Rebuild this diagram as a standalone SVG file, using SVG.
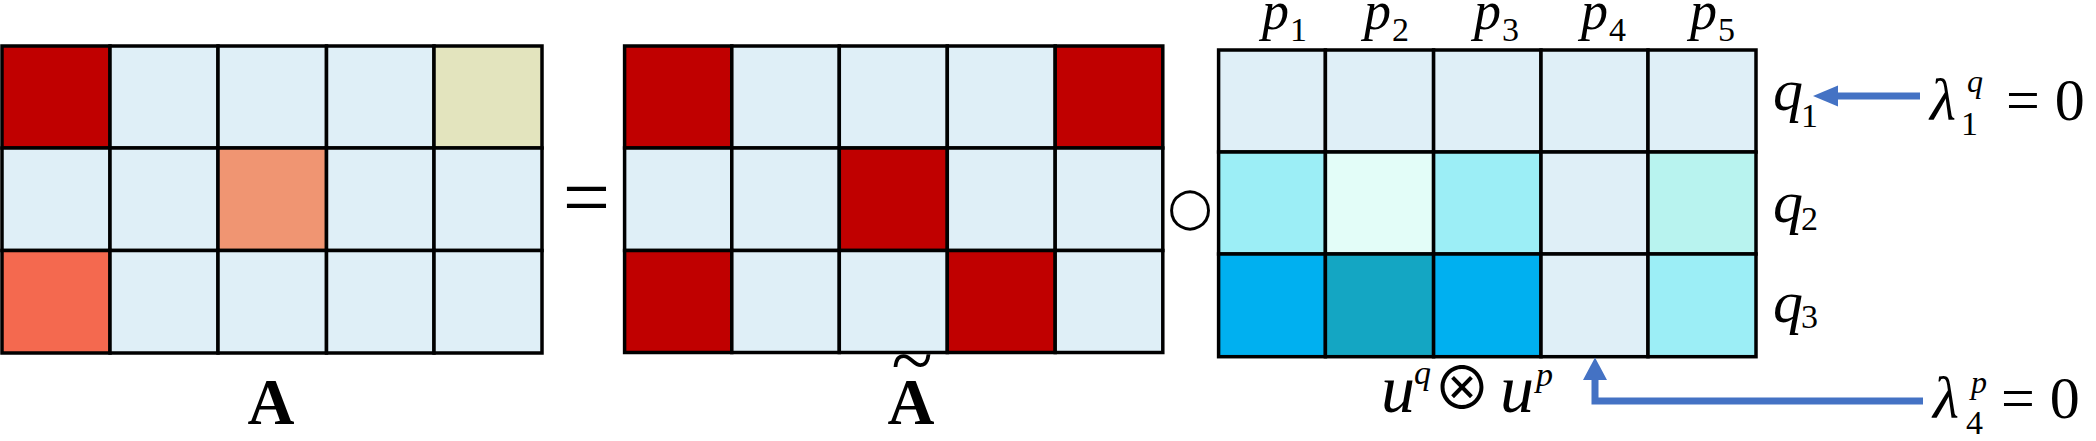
<svg xmlns="http://www.w3.org/2000/svg" width="2096" height="441" viewBox="0 0 2096 441">
<style>
.c{stroke:#000;stroke-width:3.5}
.lb{fill:#DFEFF7}.dr{fill:#C00000}.kh{fill:#E3E4BE}.sa{fill:#F09572}.co{fill:#F4694F}
.cy{fill:#9CEEF6}.mi{fill:#E3FDF8}.tq{fill:#B8F3EF}.bl{fill:#00B0F0}.te{fill:#14A6C3}
.ar{stroke:#4472C4;stroke-width:7;fill:none}
.ah{fill:#4472C4}
</style>
<g id="matrixA">
<rect class="c dr" x="2" y="46" width="108" height="102"/>
<rect class="c lb" x="110" y="46" width="108" height="102"/>
<rect class="c lb" x="218" y="46" width="108.5" height="102"/>
<rect class="c lb" x="326.5" y="46" width="107.5" height="102"/>
<rect class="c kh" x="434" y="46" width="108" height="102"/>
<rect class="c lb" x="2" y="148" width="108" height="102.5"/>
<rect class="c lb" x="110" y="148" width="108" height="102.5"/>
<rect class="c sa" x="218" y="148" width="108.5" height="102.5"/>
<rect class="c lb" x="326.5" y="148" width="107.5" height="102.5"/>
<rect class="c lb" x="434" y="148" width="108" height="102.5"/>
<rect class="c co" x="2" y="250.5" width="108" height="102.5"/>
<rect class="c lb" x="110" y="250.5" width="108" height="102.5"/>
<rect class="c lb" x="218" y="250.5" width="108.5" height="102.5"/>
<rect class="c lb" x="326.5" y="250.5" width="107.5" height="102.5"/>
<rect class="c lb" x="434" y="250.5" width="108" height="102.5"/>
</g>
<g id="labelA"><text font-family="Liberation Serif, serif" font-weight="bold" x="271" y="424" font-size="65" text-anchor="middle">A</text></g>
<g id="equals"><text font-family="Liberation Serif, serif" x="586.5" y="226" font-size="84" text-anchor="middle">=</text></g>
<g id="matrixAtilde">
<rect class="c dr" x="624.6" y="46" width="107.2" height="102"/>
<rect class="c lb" x="731.8" y="46" width="107.5" height="102"/>
<rect class="c lb" x="839.3" y="46" width="108" height="102"/>
<rect class="c lb" x="947.3" y="46" width="107.9" height="102"/>
<rect class="c dr" x="1055.2" y="46" width="107.6" height="102"/>
<rect class="c lb" x="624.6" y="148" width="107.2" height="102.5"/>
<rect class="c lb" x="731.8" y="148" width="107.5" height="102.5"/>
<rect class="c dr" x="839.3" y="148" width="108" height="102.5"/>
<rect class="c lb" x="947.3" y="148" width="107.9" height="102.5"/>
<rect class="c lb" x="1055.2" y="148" width="107.6" height="102.5"/>
<rect class="c dr" x="624.6" y="250.5" width="107.2" height="102"/>
<rect class="c lb" x="731.8" y="250.5" width="107.5" height="102"/>
<rect class="c lb" x="839.3" y="250.5" width="108" height="102"/>
<rect class="c dr" x="947.3" y="250.5" width="107.9" height="102"/>
<rect class="c lb" x="1055.2" y="250.5" width="107.6" height="102"/>
</g>
<g id="labelAtilde">
<text font-family="Liberation Serif, serif" font-weight="bold" font-size="65" text-anchor="middle"><tspan x="911" y="424">A</tspan><tspan x="912" y="386" font-weight="normal" font-size="76">~</tspan></text>
</g>
<g id="hadamard"><text x="1190" y="224" font-family="DejaVu Sans, sans-serif" font-size="52" text-anchor="middle">○</text></g>
<g id="matrixUV">
<rect class="c lb" x="1218.6" y="50" width="106.8" height="102"/>
<rect class="c lb" x="1325.4" y="50" width="108.2" height="102"/>
<rect class="c lb" x="1433.6" y="50" width="107.4" height="102"/>
<rect class="c lb" x="1541" y="50" width="107" height="102"/>
<rect class="c lb" x="1648" y="50" width="108" height="102"/>
<rect class="c cy" x="1218.6" y="152" width="106.8" height="102"/>
<rect class="c mi" x="1325.4" y="152" width="108.2" height="102"/>
<rect class="c cy" x="1433.6" y="152" width="107.4" height="102"/>
<rect class="c lb" x="1541" y="152" width="107" height="102"/>
<rect class="c tq" x="1648" y="152" width="108" height="102"/>
<rect class="c bl" x="1218.6" y="254" width="106.8" height="102.7"/>
<rect class="c te" x="1325.4" y="254" width="108.2" height="102.7"/>
<rect class="c bl" x="1433.6" y="254" width="107.4" height="102.7"/>
<rect class="c lb" x="1541" y="254" width="107" height="102.7"/>
<rect class="c cy" x="1648" y="254" width="108" height="102.7"/>
</g>
<g id="colLabels" font-family="Liberation Serif, serif">
<text font-style="italic" font-size="54" y="29"><tspan x="1262">p</tspan><tspan font-style="normal" x="1290" y="41" font-size="34">1</tspan></text>
<text font-style="italic" font-size="54" y="29"><tspan x="1364">p</tspan><tspan font-style="normal" x="1392" y="41" font-size="34">2</tspan></text>
<text font-style="italic" font-size="54" y="29"><tspan x="1474">p</tspan><tspan font-style="normal" x="1502" y="41" font-size="34">3</tspan></text>
<text font-style="italic" font-size="54" y="29"><tspan x="1581">p</tspan><tspan font-style="normal" x="1609" y="41" font-size="34">4</tspan></text>
<text font-style="italic" font-size="54" y="29"><tspan x="1690">p</tspan><tspan font-style="normal" x="1718" y="41" font-size="34">5</tspan></text>
</g>
<g id="rowLabels" font-family="Liberation Serif, serif">
<text font-style="italic" font-size="60" y="110"><tspan x="1773">q</tspan><tspan font-style="normal" x="1801" y="127" font-size="34">1</tspan></text>
<text font-style="italic" font-size="60" y="222"><tspan x="1773">q</tspan><tspan font-style="normal" x="1801" y="230" font-size="34">2</tspan></text>
<text font-style="italic" font-size="60" y="322"><tspan x="1773">q</tspan><tspan font-style="normal" x="1801" y="328" font-size="34">3</tspan></text>
</g>
<g id="lambdaQ" font-family="Liberation Serif, serif">
<text font-style="italic" font-size="60" y="120"><tspan x="1930">λ</tspan><tspan font-style="normal" x="1961" y="135" font-size="34">1</tspan><tspan x="1967" y="92" font-size="32">q</tspan><tspan font-style="normal" x="2006" y="120">= 0</tspan></text>
</g>
<g id="lambdaP" font-family="Liberation Serif, serif">
<text font-style="italic" font-size="60" y="418"><tspan x="1933">λ</tspan><tspan font-style="normal" x="1966" y="434" font-size="34">4</tspan><tspan x="1971" y="393" font-size="32">p</tspan><tspan font-style="normal" x="2001" y="418">= 0</tspan></text>
</g>
<g id="outerProduct" font-family="Liberation Serif, serif">
<text font-style="italic" font-size="68" y="412"><tspan x="1381">u</tspan><tspan x="1414" y="384" font-size="34">q</tspan><tspan font-style="normal" font-family="Noto Sans CJK JP, DejaVu Sans, sans-serif" x="1462" y="409" font-size="58" text-anchor="middle">⊗</tspan><tspan x="1500" y="412">u</tspan><tspan x="1536" y="386" font-size="34">p</tspan></text>
</g>
<g id="connectors">
<line class="ar" x1="1920" y1="96" x2="1836" y2="96"/>
<polygon class="ah" points="1813,96 1838,85.5 1838,106.5"/>
<polyline class="ar" points="1923,401 1595,401 1595,378"/>
<polygon class="ah" points="1595,357.5 1583,380 1607,380"/>
</g>
</svg>
